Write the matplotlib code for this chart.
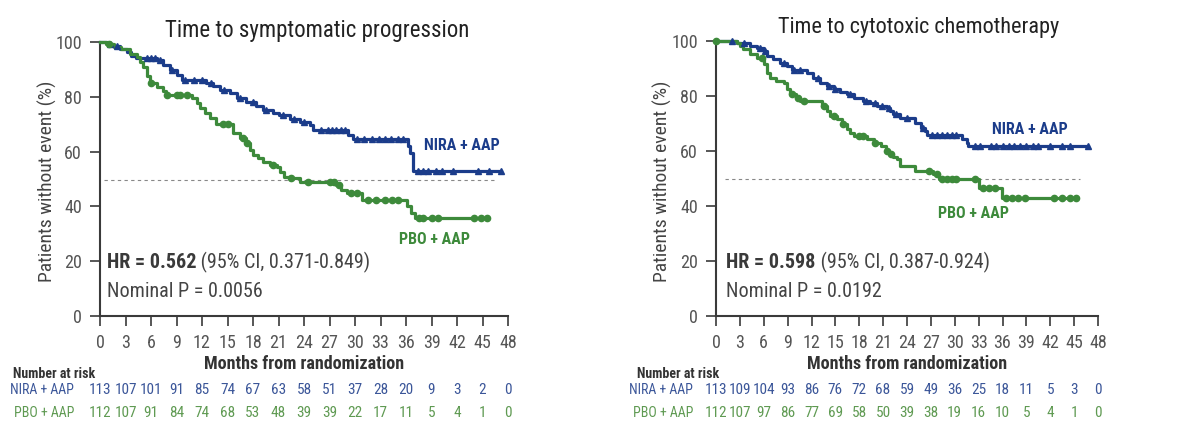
import numpy as np
import matplotlib
matplotlib.use("Agg")
import matplotlib.pyplot as plt
from matplotlib import font_manager

# ---------------- data ----------------
months_ticks = [0, 3, 6, 9, 12, 15, 18, 21, 24, 27, 30, 33, 36, 39, 42, 45, 48]
y_ticks = [0, 20, 40, 60, 80, 100]

# Left panel: Time to symptomatic progression
l_nira_t = [0, 0.8, 1.5, 2.4, 3.2, 3.6, 4.2, 6.7, 7.4, 8.2, 9.0, 9.6, 12.5, 13.3, 14.1, 15.3, 16.1, 17.2,
            18.4, 19.2, 20.4, 21.0, 22.3, 23.5, 24.7, 25.1, 29.2, 29.8, 36.2, 36.5, 36.8]
l_nira_s = [100, 99.2, 98.5, 97.5, 96.5, 95.0, 94.3, 93.4, 91.5, 89.8, 87.8, 86.2, 85.0, 84.0, 82.5, 81.3, 79.5, 78.2,
            76.5, 75.2, 74.0, 73.2, 72.0, 70.9, 69.6, 67.8, 66.0, 64.5, 62.0, 59.5, 53.0]
l_nira_end = 47.2
l_nira_cens = [1.2, 2.0, 5.5, 6.0, 6.5, 7.0, 8.5, 10.0, 11.0, 12.0, 13.0, 14.6, 16.5, 18.0, 19.5, 21.5, 22.8, 24.0,
               26.0, 26.8, 27.3, 27.8, 28.3, 28.8, 30.2, 31.0, 32.0, 32.8, 33.5, 34.2, 35.0, 35.6, 37.4, 38.0,
               38.6, 39.5, 40.2, 41.5, 44.5, 45.8, 47.2]

l_pbo_t = [0, 0.7, 1.6, 2.5, 3.5, 4.3, 4.7, 5.1, 5.5, 5.9, 6.7, 7.4, 7.8, 10.8, 11.4, 11.8, 12.3, 12.9, 13.7,
           15.7, 16.5, 17.2, 17.6, 18.0, 18.6, 19.2, 20.0, 20.8, 21.2, 21.6, 22.3, 23.5, 27.8, 28.4, 29.0,
           30.8, 36.1, 36.6, 37.0]
l_pbo_s = [100, 99.1, 98.2, 97.3, 95.5, 94.6, 92.8, 91.0, 87.5, 85.0, 83.5, 82.0, 80.7, 79.4, 77.6, 75.8, 74.0, 72.1, 70.0,
           66.8, 64.8, 63.0, 60.6, 58.8, 57.5, 56.3, 55.1, 54.4, 52.7, 50.9, 50.2, 49.0, 47.8, 46.0, 44.8,
           42.3, 40.0, 37.5, 35.8]
l_pbo_end = 45.5
l_pbo_cens = [1.0, 6.0, 7.9, 9.0, 9.4, 10.2, 14.5, 15.0, 16.8, 17.3, 20.4, 22.5, 24.5, 27.0, 27.5, 28.1, 29.5,
              30.2, 31.5, 32.5, 33.5, 34.3, 35.0, 37.5, 38.0, 39.0, 39.8, 44.0, 44.8, 45.5]

# Right panel: Time to cytotoxic chemotherapy
r_nira_t = [0, 2.6, 4.3, 5.1, 6.0, 6.4, 7.2, 8.1, 8.9, 9.5, 11.4, 12.2, 13.1, 13.9, 14.8, 15.6, 16.4, 17.3, 18.5,
            19.4, 20.2, 21.5, 21.9, 22.3, 23.1, 25.0, 25.7, 26.3, 26.5, 30.9, 31.5, 31.7]
r_nira_s = [100, 99.4, 98.2, 97.4, 96.4, 94.5, 93.3, 92.1, 90.9, 89.5, 88.4, 86.7, 84.8, 83.6, 82.4, 81.6, 80.6, 79.4, 78.2,
            77.4, 76.4, 75.8, 74.5, 73.3, 72.1, 70.3, 68.5, 67.3, 65.8, 64.2, 63.0, 61.8]
r_nira_end = 46.8
r_nira_cens = [2.0, 3.5, 5.5, 6.2, 8.5, 9.8, 10.6, 12.8, 14.2, 15.0, 16.8, 18.8, 20.0, 20.8, 21.7, 22.6, 24.0,
               26.0, 27.2, 27.8, 28.4, 29.0, 29.6, 30.2, 32.5, 33.2, 34.5, 35.2, 36.0, 36.8, 37.5, 38.2, 39.0,
               39.8, 40.5, 42.0, 43.5, 44.5, 46.8]

r_pbo_t = [0, 2.6, 3.0, 3.4, 4.3, 5.1, 6.0, 6.4, 6.8, 7.6, 8.5, 8.9, 9.3, 10.1, 10.6, 13.3, 13.9, 14.3, 15.2, 15.8,
           16.4, 16.9, 17.3, 19.0, 19.8, 20.7, 21.3, 21.7, 22.3, 22.7, 23.1, 25.0, 27.3, 28.0, 33.0, 35.9]
r_pbo_s = [100, 99.4, 98.2, 97.0, 95.2, 93.9, 91.5, 88.5, 86.7, 85.5, 84.8, 82.4, 80.6, 79.4, 78.2, 76.4, 74.5, 72.7, 71.5, 69.7,
           67.9, 66.7, 65.5, 64.2, 63.0, 61.8, 60.0, 58.8, 58.0, 57.0, 54.5, 52.7, 51.5, 49.7, 46.7, 43.0]
r_pbo_end = 45.2
r_pbo_cens = [0.0, 5.8, 9.5, 10.3, 11.0, 13.6, 14.8, 16.0, 18.0, 18.5, 20.0, 21.5, 22.0, 26.8, 27.8, 28.4, 29.0,
              29.6, 30.2, 32.5, 33.5, 34.3, 35.0, 36.5, 37.2, 38.0, 38.8, 42.5, 43.5, 44.5, 45.2]

# Numbers at risk
l_risk_nira = [113, 107, 101, 91, 85, 74, 67, 63, 58, 51, 37, 28, 20, 9, 3, 2, 0]
l_risk_pbo = [112, 107, 91, 84, 74, 68, 53, 48, 39, 39, 22, 17, 11, 5, 4, 1, 0]
r_risk_nira = [113, 109, 104, 93, 86, 76, 72, 68, 59, 49, 36, 25, 18, 11, 5, 3, 0]
r_risk_pbo = [112, 107, 97, 86, 77, 69, 58, 50, 39, 38, 19, 16, 10, 5, 4, 1, 0]

titles = ["Time to symptomatic progression", "Time to cytotoxic chemotherapy"]
hr_bold = ["HR = 0.562", "HR = 0.598"]
hr_rest = [" (95% CI, 0.371-0.849)", " (95% CI, 0.387-0.924)"]
pvals = ["Nominal P = 0.0056", "Nominal P = 0.0192"]
arm_labels = ["NIRA + AAP", "PBO + AAP"]

# ---------------- style ----------------
names = {f.name for f in font_manager.fontManager.ttflist}
FAM = [f for f in ["Roboto Condensed", "PT Sans Narrow", "Liberation Sans"] if f in names][:1] + ["DejaVu Sans"]
plt.rcParams["font.family"] = FAM

BLUE = "#1b3c8a"
GREEN = "#3d8a3b"
BLUE_T = "#3b5699"
GREEN_T = "#5f9a52"
GREY = "#555555"
AXC = "#3a3a3a"

W, H = 1200, 434
fig = plt.figure(figsize=(W / 100, H / 100), dpi=100)
fig.patch.set_facecolor("white")


def px(x, y):
    return x / W, 1 - y / H


def step_value(t, s, x):
    idx = np.searchsorted(np.asarray(t), np.asarray(x), side="right") - 1
    idx = np.clip(idx, 0, len(s) - 1)
    return np.asarray(s)[idx]


def draw_panel(ax, curves, hb, hr, pv, lab_pos, dash, ylab_x):
    for (t, s, end, cens, col, mk, ms) in curves:
        tt = list(t) + [end]
        ss = list(s) + [s[-1]]
        ax.step(tt, ss, where="post", color=col, lw=2.3, zorder=3, clip_on=False)
        cy = step_value(t, s, cens)
        ax.plot(cens, cy, ls="none", marker=mk, ms=ms, color=col, zorder=4, clip_on=False)
    ax.plot([dash[0], dash[1]], [dash[2], dash[2]], ls=(0, (3, 3)), color="#888888", lw=0.8, zorder=2)
    ax.set_xlim(0, 48)
    ax.set_ylim(0, 100)
    ax.set_xticks(months_ticks)
    ax.set_yticks(y_ticks)
    ax.tick_params(axis="both", direction="out", length=7, width=1.2, color=AXC,
                   labelsize=13, labelcolor=GREY, pad=6)
    for sp in ["top", "right"]:
        ax.spines[sp].set_visible(False)
    for sp in ["left", "bottom"]:
        ax.spines[sp].set_color(AXC)
        ax.spines[sp].set_linewidth(1.5)
    ax.set_ylabel("Patients without event (%)", fontsize=14, color="#444444")
    ax.yaxis.set_label_coords(ylab_x, 0.49)
    ax.set_facecolor("white")
    tb = ax.text(lab_pos[4], 19.5, hb, fontsize=14.5, fontweight="bold", color="#3a3a3a",
                 va="center", ha="left")
    fig.canvas.draw()
    bb = tb.get_window_extent()
    x_end = ax.transData.inverted().transform((bb.x1, bb.y0))[0]
    ax.text(x_end, 19.5, hr, fontsize=14.5, color="#444444", va="center", ha="left")
    ax.text(lab_pos[4], 8.8, pv, fontsize=14.5, color="#444444", va="center", ha="left")
    ax.text(lab_pos[0], lab_pos[1], arm_labels[0], fontsize=11.5, fontweight="bold", color=BLUE,
            ha="center", va="center")
    ax.text(lab_pos[2], lab_pos[3], arm_labels[1], fontsize=11.5, fontweight="bold", color=GREEN,
            ha="center", va="center")


# Left panel
x0, y0 = px(100, 316)
x1, y1 = px(508, 42)
axL = fig.add_axes([x0, y0, x1 - x0, y1 - y0])
draw_panel(axL,
           [(l_nira_t, l_nira_s, l_nira_end, l_nira_cens, BLUE, "^", 4.5),
            (l_pbo_t, l_pbo_s, l_pbo_end, l_pbo_cens, GREEN, "o", 4.5)],
           hr_bold[0], hr_rest[0], pvals[0],
           (42.6, 62.4, 39.4, 27.8, 0.8), (0.5, 46.3, 49.5), -0.105)
fig.text(*px(317, 31), titles[0], fontsize=16.5, color="#222222", ha="center", va="center")

# Right panel
x0, y0 = px(716, 316)
x1, y1 = px(1098, 41)
axR = fig.add_axes([x0, y0, x1 - x0, y1 - y0])
draw_panel(axR,
           [(r_nira_t, r_nira_s, r_nira_end, r_nira_cens, BLUE, "^", 4.5),
            (r_pbo_t, r_pbo_s, r_pbo_end, r_pbo_cens, GREEN, "o", 4.5)],
           hr_bold[1], hr_rest[1], pvals[1],
           (39.4, 68.0, 32.4, 37.2, 1.3), (1.1, 45.8, 50.0), -0.115)
fig.text(*px(919, 27), titles[1], fontsize=16, color="#222222", ha="center", va="center")

# x labels and risk tables
for ax, xc, risk_n, risk_p, nar_x, lab_r in [
        (axL, 304, l_risk_nira, l_risk_pbo, 13, 74),
        (axR, 907, r_risk_nira, r_risk_pbo, 637, 693)]:
    fig.text(*px(xc, 364), "Months from randomization", fontsize=13, fontweight="bold",
             color="#333333", ha="center", va="center")
    fig.text(*px(nar_x, 374), "Number at risk", fontsize=10, fontweight="bold",
             color="#333333", ha="left", va="center")
    fig.text(*px(lab_r, 390), arm_labels[0], fontsize=10, color=BLUE_T, ha="right", va="center")
    fig.text(*px(lab_r, 413), arm_labels[1], fontsize=10, color=GREEN_T, ha="right", va="center")
    trans = ax.get_xaxis_transform()
    pos = ax.get_position()
    yN = (1 - 390 / H - pos.y0) / pos.height
    yP = (1 - 413 / H - pos.y0) / pos.height
    for m, n, p in zip(months_ticks, risk_n, risk_p):
        ax.text(m, yN, str(n), transform=trans, fontsize=11, color=BLUE_T, ha="center", va="center",
                clip_on=False)
        ax.text(m, yP, str(p), transform=trans, fontsize=11, color=GREEN_T, ha="center", va="center",
                clip_on=False)

fig.savefig("out.png", dpi=100, facecolor="white")
